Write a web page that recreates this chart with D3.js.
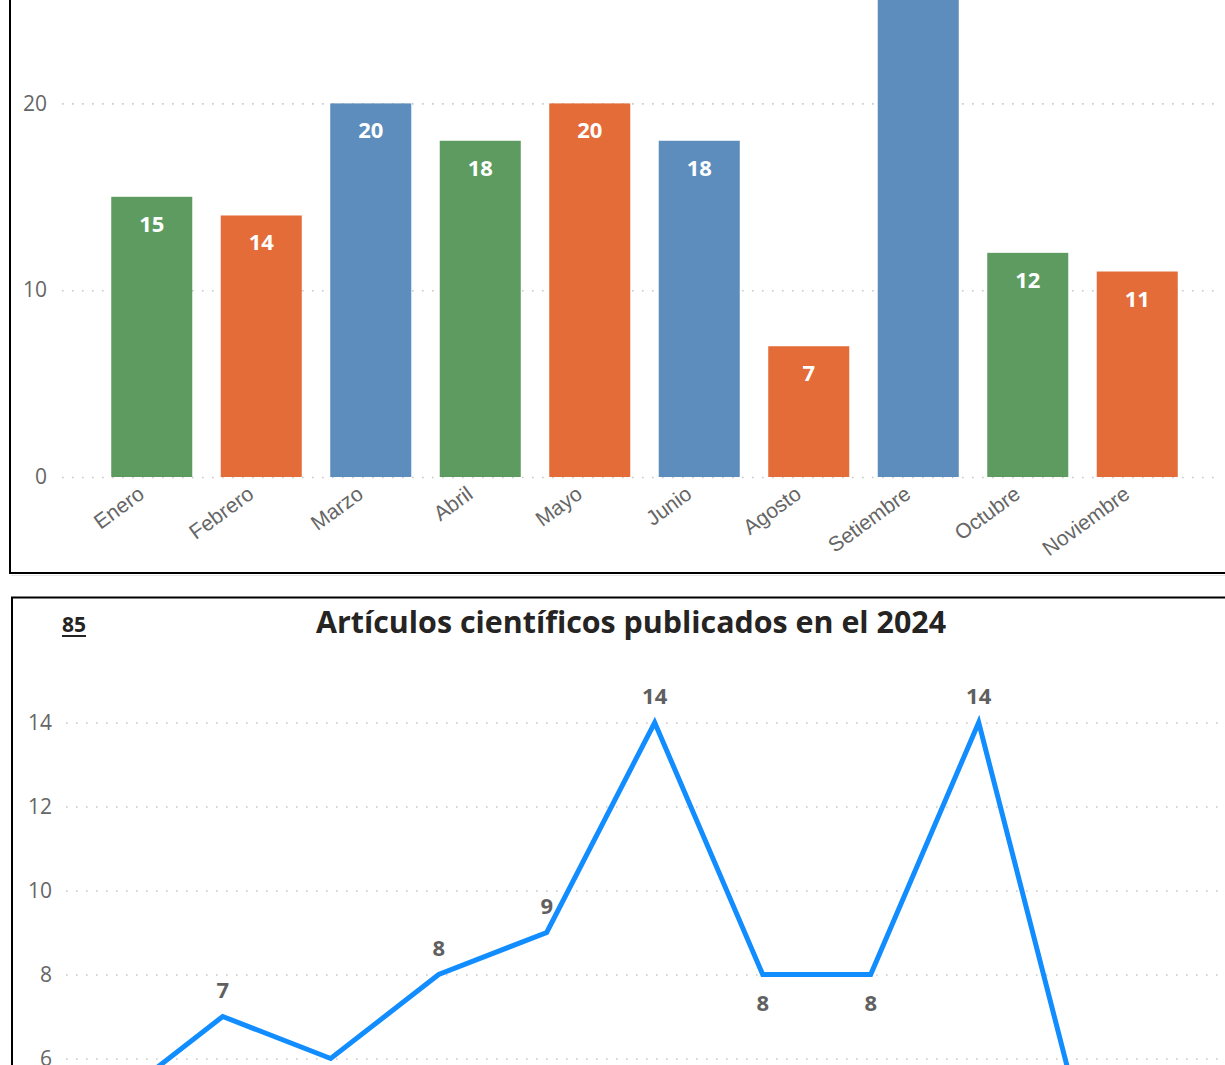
<!DOCTYPE html>
<html>
<head>
<meta charset="utf-8">
<script src="https://cdn.jsdelivr.net/npm/d3@7"></script>
<style>
  html, body { margin: 0; padding: 0; background: #fff; overflow: hidden; }
  svg { display: block; }
</style>
</head>
<body>
<svg id="chart" width="1225" height="1065"></svg>
<script>
// ---------- data ----------
const barMonths = ["Enero","Febrero","Marzo","Abril","Mayo","Junio","Agosto","Setiembre","Octubre","Noviembre"];
const barValues = [15, 14, 20, 18, 20, 18, 7, 28, 12, 11];
const barColors = ["#5E9B61","#E46C38","#5C8DBC","#5E9B61","#E46C38","#5C8DBC","#E46C38","#5C8DBC","#5E9B61","#E46C38"];
const barTicks = [0, 10, 20, 30];

const lineMonths = ["Enero","Febrero","Marzo","Abril","Mayo","Junio","Julio","Agosto","Setiembre","Octubre","Noviembre"];
const lineValues = [5, 7, 6, 8, 9, 14, 8, 8, 14, 4, 2];
const lineTicks = [0, 2, 4, 6, 8, 10, 12, 14];
const lineTitle = "Artículos científicos publicados en el 2024";
const lineTotal = String(d3.sum(lineValues));

// ---------- drawing ----------
const W = 1225, H = 1065;
const svg = d3.select("#chart");
const tickFont = "'Open Sans', 'Noto Sans', sans-serif";
const boldFont = "'Open Sans', 'Noto Sans', sans-serif";
// only texts whose glyphs fall inside the visible page are drawn
const visible = y => y > 14 && y < H + 16;

// ===== Top panel: bar chart =====
const topG = svg.append("g");
const xb = d3.scaleBand().domain(barMonths).range([97, 1192]).paddingInner(0.26).paddingOuter(0.13);
const yb = d3.scaleLinear().domain([0, 30]).range([477, 477 - 30 * 18.68]);

// gridlines
const gridB = topG.append("g").attr("transform", "translate(62,0)")
  .call(d3.axisLeft(yb).tickValues(barTicks).tickSize(-1160).tickFormat(""));
gridB.select(".domain").remove();
gridB.selectAll("line").attr("stroke", "#c8c8c8").attr("stroke-width", 1.6).attr("stroke-dasharray", "1.6,8.4");

// tick labels
const axB = topG.append("g").attr("transform", "translate(47,0)")
  .call(d3.axisLeft(yb).tickValues(barTicks.filter(t => visible(yb(t)))).tickSize(0).tickPadding(0));
axB.select(".domain").remove();
axB.selectAll("text").attr("fill", "#666").style("font-family", tickFont).style("font-weight", 400).style("font-size", "21px");

// bars
topG.selectAll("rect.bar").data(barValues).join("rect").attr("class", "bar")
  .attr("x", (d, i) => xb(barMonths[i]))
  .attr("width", xb.bandwidth())
  .attr("y", d => yb(d))
  .attr("height", d => yb(0) - yb(d))
  .attr("fill", (d, i) => barColors[i]);

// value labels
topG.selectAll("text.val").data(barValues.map((v, i) => ({v, i})).filter(d => visible(yb(d.v) + 35)))
  .join("text").attr("class", "val")
  .attr("x", d => xb(barMonths[d.i]) + xb.bandwidth() / 2)
  .attr("y", d => yb(d.v) + 35)
  .attr("text-anchor", "middle")
  .attr("fill", "#fff")
  .style("font-family", boldFont).style("font-weight", 700).style("font-size", "22px")
  .text(d => d.v);

// x axis labels (rotated)
const axX = topG.append("g").attr("transform", `translate(-6,${yb(0) + 20})`)
  .call(d3.axisBottom(xb).tickSize(0).tickPadding(0));
axX.select(".domain").remove();
axX.selectAll("text")
  .attr("y", 0).attr("dy", 0)
  .attr("text-anchor", "end")
  .attr("transform", "rotate(-36)")
  .attr("fill", "#666")
  .style("font-family", "'Liberation Sans', Arial, sans-serif").style("font-size", "21px");

// panel border (top)
topG.append("line").attr("x1", 10).attr("x2", 10).attr("y1", -10).attr("y2", 574).attr("stroke", "#000").attr("stroke-width", 2);
topG.append("line").attr("x1", 9).attr("x2", 1230).attr("y1", 573).attr("y2", 573).attr("stroke", "#000").attr("stroke-width", 2);
topG.append("line").attr("x1", 11).attr("x2", 1230).attr("y1", 575.5).attr("y2", 575.5).attr("stroke", "#e6e6e6").attr("stroke-width", 1);

// ===== Bottom panel: line chart =====
const botG = svg.append("g");
botG.append("rect").attr("x", 12).attr("y", 597.5).attr("width", 1240).attr("height", 600)
  .attr("fill", "#fff").attr("stroke", "#000").attr("stroke-width", 2);

const xl = d3.scalePoint().domain(lineMonths).range([114.7, 114.7 + 108 * 10]);
const yl = d3.scaleLinear().domain([0, 16]).range([1310.5, 1310.5 - 16 * 42]);

const gridL = botG.append("g").attr("transform", "translate(66,0)")
  .call(d3.axisLeft(yl).tickValues(lineTicks).tickSize(-1170).tickFormat(""));
gridL.select(".domain").remove();
gridL.selectAll("line").attr("stroke", "#c8c8c8").attr("stroke-width", 1.6).attr("stroke-dasharray", "1.6,8.4");

const axL = botG.append("g").attr("transform", "translate(52,0)")
  .call(d3.axisLeft(yl).tickValues(lineTicks.filter(t => visible(yl(t)))).tickSize(0).tickPadding(0));
axL.select(".domain").remove();
axL.selectAll("text").attr("fill", "#666").style("font-family", tickFont).style("font-weight", 400).style("font-size", "21px");

// line
botG.append("path").datum(lineValues)
  .attr("fill", "none").attr("stroke", "#118DFF").attr("stroke-width", 5)
  .attr("stroke-linejoin", "miter").attr("stroke-miterlimit", 10)
  .attr("d", d3.line().x((d, i) => xl(lineMonths[i])).y(d => yl(d)));

// data labels: below local minima, above otherwise
function isLow(i) {
  const v = lineValues[i];
  const prev = i > 0 ? lineValues[i - 1] : Infinity;
  const next = i < lineValues.length - 1 ? lineValues[i + 1] : Infinity;
  return v <= prev && v <= next;
}
const labY = (v, i) => isLow(i) ? yl(v) + 36 : yl(v) - 19;
botG.selectAll("text.lv").data(lineValues.map((v, i) => ({v, i})).filter(d => labY(d.v, d.i) < H - 2))
  .join("text").attr("class", "lv")
  .attr("x", d => xl(lineMonths[d.i]))
  .attr("y", d => labY(d.v, d.i))
  .attr("text-anchor", "middle")
  .attr("fill", "#606060")
  .style("font-family", boldFont).style("font-weight", 700).style("font-size", "22px")
  .text(d => d.v);

// title
const title = botG.append("text").attr("x", 631).attr("y", 633)
  .attr("text-anchor", "middle").attr("fill", "#252423")
  .style("font-family", boldFont).style("font-weight", 700).style("font-size", "31px")
  .text(lineTitle);
const tw = title.node().getComputedTextLength();
if (tw > 630) title.attr("textLength", 630).attr("lengthAdjust", "spacingAndGlyphs");

// total KPI
const kpi = botG.append("text").attr("x", 62).attr("y", 632)
  .attr("fill", "#252423")
  .style("font-family", boldFont).style("font-weight", 700).style("font-size", "21px")
  .text(lineTotal);
const kw = kpi.node().getComputedTextLength();
botG.append("line").attr("x1", 62).attr("x2", 62 + kw).attr("y1", 636).attr("y2", 636)
  .attr("stroke", "#252423").attr("stroke-width", 2);
</script>
</body>
</html>
